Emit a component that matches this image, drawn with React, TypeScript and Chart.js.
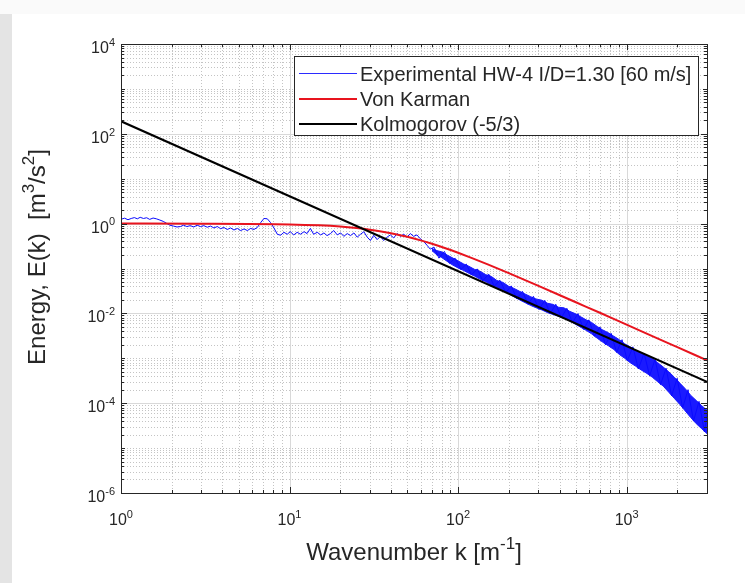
import React, { useEffect, useRef } from "react";
import { Chart, registerables } from "chart.js";

Chart.register(...registerables);

// ---------- data ----------
const expK = [
  1.0, 1.05, 1.1, 1.15, 1.2, 1.25, 1.3, 1.36, 1.42, 1.48, 1.55, 1.62, 1.7, 1.78, 1.86, 1.95,
  2.05, 2.15, 2.25, 2.35, 2.46, 2.58, 2.7, 2.83, 2.96, 3.1, 3.25, 3.4, 3.56, 3.73, 3.9, 4.08,
  4.27, 4.47, 4.68, 4.9, 5.13, 5.37, 5.62, 5.88, 6.15, 6.44, 6.74, 7.05, 7.38, 7.72, 8.08, 8.46,
  8.85, 9.26, 9.69, 10.1, 10.6, 11.1, 11.6, 12.2, 12.7, 13.3, 13.9, 14.6, 15.3, 16.0, 16.7, 17.5,
  18.3, 19.2, 20.1, 21.0, 22.0, 23.0, 24.1, 25.2, 26.4, 27.6, 28.9, 30.2, 31.6, 33.1, 34.6, 36.2,
  37.9, 39.7, 41.5, 43.5, 45.5, 47.6, 49.8, 52.1, 54.5, 57.0, 59.7, 62.5, 65.4, 68.4,
  72, 77, 83, 89, 96, 104, 112, 120, 130, 140, 152, 164, 177, 192, 207, 223, 241, 260, 280, 302,
  327, 352, 380, 410, 442, 477, 515, 555, 597, 645, 695, 750, 810, 872, 940, 1010, 1090, 1175,
  1270, 1370, 1475, 1590, 1715, 1850, 1995, 2150, 2315, 2495, 2690, 2895, 3000,
];
const expE = [
  1.25, 1.32, 1.22, 1.3, 1.36, 1.28, 1.38, 1.3, 1.35, 1.24, 1.33, 1.28, 1.2, 1.12, 1.02, 0.92,
  0.88, 0.84, 0.86, 0.92, 0.86, 0.9, 0.84, 0.92, 0.86, 0.9, 0.83, 0.88, 0.8, 0.86, 0.77, 0.82,
  0.74, 0.8, 0.72, 0.78, 0.7, 0.76, 0.7, 0.78, 0.74, 0.82, 1.05, 1.3, 1.28, 1.05, 0.8, 0.58,
  0.55, 0.64, 0.58, 0.66, 0.56, 0.64, 0.58, 0.66, 0.6, 0.78, 0.58, 0.64, 0.56, 0.62, 0.54, 0.6,
  0.7, 0.56, 0.62, 0.52, 0.6, 0.54, 0.62, 0.5, 0.58, 0.66, 0.5, 0.42, 0.55, 0.44, 0.52, 0.42,
  0.5, 0.56, 0.48, 0.6, 0.52, 0.58, 0.5, 0.6, 0.52, 0.56, 0.46, 0.4, 0.33, 0.27,
  0.3, 0.17, 0.24, 0.13, 0.17, 0.095, 0.125, 0.072, 0.098, 0.053, 0.075, 0.04, 0.055, 0.029,
  0.041, 0.021, 0.031, 0.016, 0.024, 0.0122, 0.0195, 0.0098, 0.016, 0.008, 0.013, 0.0062,
  0.0099, 0.0044, 0.0072, 0.0031, 0.005, 0.002, 0.0036, 0.00135, 0.0026, 0.00088, 0.0018,
  0.00058, 0.0013, 0.00041, 0.00095, 0.00026, 0.0006, 0.000145, 0.00036, 0.000078, 0.0002,
  0.00004, 0.00011, 0.000023, 0.000055,
];

const bandK = [
  70, 75, 80, 86, 92, 100, 108, 116, 125, 135, 146, 158, 170, 185, 200, 215, 232, 250, 270, 290,
  315, 340, 365, 395, 425, 460, 495, 535, 575, 620, 670, 720, 780, 840, 905, 975, 1050, 1130,
  1220, 1320, 1420, 1530, 1650, 1780, 1920, 2070, 2230, 2400, 2590, 2790, 3000,
];
const bandUpper = [
  0.28, 0.25, 0.235, 0.2, 0.175, 0.148, 0.126, 0.112, 0.096, 0.087, 0.073, 0.066, 0.054, 0.049,
  0.04, 0.036, 0.031, 0.027, 0.0235, 0.021, 0.0196, 0.0168, 0.0159, 0.0137, 0.0133, 0.0111,
  0.0099, 0.0084, 0.0072, 0.0063, 0.0051, 0.0043, 0.0037, 0.0031, 0.0026, 0.0021, 0.0018,
  0.00152, 0.0013, 0.00112, 0.00099, 0.0008, 0.00064, 0.0005, 0.00038, 0.00028, 0.00021,
  0.00015, 0.000115, 0.000088, 0.00007,
];
const bandLower = [
  0.25, 0.2, 0.175, 0.145, 0.122, 0.103, 0.09, 0.078, 0.068, 0.058, 0.051, 0.043, 0.038, 0.032,
  0.0275, 0.0233, 0.02, 0.0173, 0.015, 0.0134, 0.0119, 0.0104, 0.0095, 0.0086, 0.0079, 0.0068,
  0.0058, 0.0049, 0.0042, 0.0035, 0.0028, 0.0023, 0.0019, 0.00157, 0.00122, 0.001, 0.0008,
  0.00067, 0.00055, 0.00046, 0.00038, 0.0003, 0.00024, 0.000175, 0.000128, 0.000094, 0.000067,
  0.000048, 0.000035, 0.000027, 0.000021,
];

const vonKarmanK = [1, 3, 10, 15, 20, 25, 30, 35, 40, 50, 60, 70, 85, 100, 120, 150, 200, 300, 500, 700, 1000, 1500, 2000, 3000];
const vonKarmanE = [1.0, 0.995, 0.96, 0.915, 0.86, 0.796, 0.733, 0.67, 0.612, 0.507, 0.423, 0.355, 0.279, 0.224, 0.173, 0.124, 0.079, 0.041, 0.0177, 0.0102, 0.0056, 0.00286, 0.00177, 0.0009];

const kolmogorovK = [1, 3000];
const kolmogorovE = [190, 0.0003];

const xTickValues = [1, 10, 100, 1000];
const xTickExponents = ["0", "1", "2", "3"];
const yTickValues = [1e-6, 1e-4, 1e-2, 1, 1e2, 1e4];
const yTickExponents = ["-6", "-4", "-2", "0", "2", "4"];

const legendLabels = ["Experimental HW-4 I/D=1.30 [60 m/s]", "Von Karman", "Kolmogorov (-5/3)"];
const legendColors = ["#2b2bff", "#e8141e", "#000000"];
const legendWidths = [1, 2, 2];

const X_MIN = 1;
const X_MAX = 3000;
const Y_MIN_EXP = -6;
const Y_MAX_EXP = 4;

type Part = [string, boolean];
const xTitle: Part[] = [["Wavenumber k [m", false], ["-1", true], ["]", false]];
const yTitle: Part[] = [["Energy, E(k)  [m", false], ["3", true], ["/s", false], ["2", true], ["]", false]];

// ---------- drawing helpers ----------
const FONT = '"Liberation Sans", Arial, Helvetica, sans-serif';
const TEXT = "#262626";

function supSize(size: number) {
  return Math.round(size * 0.7);
}
function richWidth(ctx: CanvasRenderingContext2D, parts: Part[], size: number) {
  let w = 0;
  for (const [t, sup] of parts) {
    ctx.font = `${sup ? supSize(size) : size}px ${FONT}`;
    w += ctx.measureText(t).width;
  }
  return w;
}
function drawRich(
  ctx: CanvasRenderingContext2D,
  parts: Part[],
  x: number,
  baseline: number,
  size: number,
  align: "left" | "center" | "right"
) {
  const w = richWidth(ctx, parts, size);
  let cx = align === "left" ? x : align === "center" ? x - w / 2 : x - w;
  ctx.textAlign = "left";
  ctx.textBaseline = "alphabetic";
  for (const [t, sup] of parts) {
    ctx.font = `${sup ? supSize(size) : size}px ${FONT}`;
    ctx.fillText(t, cx, sup ? baseline - size * 0.45 : baseline);
    cx += ctx.measureText(t).width;
  }
}

function gridValuesX() {
  const out: { v: number; major: boolean }[] = [];
  for (let e = 0; e <= 3; e++) {
    for (let m = 1; m <= 9; m++) {
      const v = m * Math.pow(10, e);
      if (v < X_MIN || v > X_MAX) continue;
      out.push({ v, major: m === 1 });
    }
  }
  return out;
}
function gridValuesY() {
  const out: { v: number; major: boolean; decade: boolean }[] = [];
  for (let e = Y_MIN_EXP; e <= Y_MAX_EXP; e++) {
    for (let m = 1; m <= 9; m++) {
      if (e === Y_MAX_EXP && m > 1) break;
      const v = m * Math.pow(10, e);
      out.push({ v, major: m === 1 && e % 2 === 0, decade: m === 1 });
    }
  }
  return out;
}

const decorPlugin = {
  id: "decor",
  beforeDraw(chart: any) {
    const ctx: CanvasRenderingContext2D = chart.ctx;
    const { left, right, top, bottom } = chart.chartArea;
    const xs = chart.scales.x;
    const ys = chart.scales.y;
    ctx.save();
    ctx.fillStyle = "#fafafa";
    ctx.fillRect(0, 0, chart.width, chart.height);
    ctx.fillStyle = "#ffffff";
    ctx.fillRect(12, 14, chart.width - 12, chart.height - 14);
    ctx.fillStyle = "#e4e4e4";
    ctx.fillRect(0, 14, 12, chart.height - 14);

    ctx.lineWidth = 1;
    for (const g of gridValuesX()) {
      const px = Math.round(xs.getPixelForValue(g.v)) + 0.5;
      if (g.major) {
        ctx.setLineDash([]);
        ctx.strokeStyle = "#d9d9d9";
      } else {
        ctx.setLineDash([1, 2]);
        ctx.strokeStyle = "#c4c4c4";
      }
      ctx.beginPath();
      ctx.moveTo(px, top);
      ctx.lineTo(px, bottom);
      ctx.stroke();
    }
    for (const g of gridValuesY()) {
      const py = Math.round(ys.getPixelForValue(g.v)) + 0.5;
      if (g.major) {
        ctx.setLineDash([]);
        ctx.strokeStyle = "#d9d9d9";
      } else {
        ctx.setLineDash([1, 2]);
        ctx.strokeStyle = "#c4c4c4";
      }
      ctx.beginPath();
      ctx.moveTo(left, py);
      ctx.lineTo(right, py);
      ctx.stroke();
    }
    ctx.restore();
  },
  afterDatasetsDraw(chart: any) {
    const ctx: CanvasRenderingContext2D = chart.ctx;
    const { left, right, top, bottom } = chart.chartArea;
    const xs = chart.scales.x;
    const ys = chart.scales.y;
    ctx.save();
    ctx.setLineDash([]);
    ctx.strokeStyle = "#262626";
    ctx.lineWidth = 1;
    // box
    ctx.strokeRect(Math.round(left) + 0.5, Math.round(top) + 0.5, Math.round(right - left), Math.round(bottom - top));
    // ticks
    ctx.beginPath();
    for (const g of gridValuesX()) {
      const px = Math.round(xs.getPixelForValue(g.v)) + 0.5;
      const len = g.major ? 6 : 3;
      ctx.moveTo(px, bottom);
      ctx.lineTo(px, bottom - len);
      ctx.moveTo(px, top);
      ctx.lineTo(px, top + len);
    }
    for (const g of gridValuesY()) {
      const py = Math.round(ys.getPixelForValue(g.v)) + 0.5;
      const len = g.major ? 6 : g.decade ? 4 : 3;
      ctx.moveTo(left, py);
      ctx.lineTo(left + len, py);
      ctx.moveTo(right, py);
      ctx.lineTo(right - len, py);
    }
    ctx.stroke();

    // tick labels
    ctx.fillStyle = TEXT;
    xTickValues.forEach((v, i) => {
      const px = xs.getPixelForValue(v);
      drawRich(ctx, [["10", false], [xTickExponents[i], true]], px, bottom + 32, 16, "center");
    });
    yTickValues.forEach((v, i) => {
      const py = ys.getPixelForValue(v);
      drawRich(ctx, [["10", false], [yTickExponents[i], true]], left - 6, py + 9, 16, "right");
    });

    // axis titles
    drawRich(ctx, xTitle, (left + right) / 2, bottom + 67, 24, "center");
    ctx.save();
    ctx.translate(45, 257);
    ctx.rotate(-Math.PI / 2);
    drawRich(ctx, yTitle, 0, 0, 24, "center");
    ctx.restore();

    // legend
    const bx = 294, by = 56, bw = 404, bh = 79;
    ctx.fillStyle = "#ffffff";
    ctx.fillRect(bx, by, bw, bh);
    ctx.strokeStyle = "#262626";
    ctx.lineWidth = 1;
    ctx.strokeRect(bx + 0.5, by + 0.5, bw, bh);
    const rows = [73.5, 99, 124];
    legendLabels.forEach((label, i) => {
      ctx.strokeStyle = legendColors[i];
      ctx.lineWidth = legendWidths[i];
      ctx.beginPath();
      ctx.moveTo(299, rows[i]);
      ctx.lineTo(357, rows[i]);
      ctx.stroke();
      ctx.fillStyle = TEXT;
      drawRich(ctx, [[label, false]], 360, rows[i] + 7, 20, "left");
    });
    ctx.restore();
  },
};

export default function App() {
  const canvasRef = useRef<HTMLCanvasElement | null>(null);

  useEffect(() => {
    const canvas = canvasRef.current;
    if (!canvas) return;
    const toPts = (xs: number[], ys: number[]) => xs.map((x, i) => ({ x, y: ys[i] }));
    const chart = new Chart(canvas, {
      type: "line",
      data: {
        datasets: [
          {
            label: legendLabels[2],
            data: toPts(kolmogorovK, kolmogorovE),
            borderColor: "#000000",
            borderWidth: 2,
            pointRadius: 0,
            fill: false,
            order: 0,
          },
          {
            label: legendLabels[1],
            data: toPts(vonKarmanK, vonKarmanE),
            borderColor: "#e8141e",
            borderWidth: 2,
            pointRadius: 0,
            fill: false,
            cubicInterpolationMode: "monotone",
            order: 1,
          },
          {
            label: legendLabels[0],
            data: toPts(expK, expE),
            borderColor: "#0a0aff",
            borderWidth: 1,
            pointRadius: 0,
            fill: false,
            order: 2,
          },
          {
            label: "band-upper",
            data: toPts(bandK, bandUpper),
            borderColor: "#1a1aff",
            borderWidth: 1,
            pointRadius: 0,
            backgroundColor: "#1a1aff",
            fill: "+1",
            order: 3,
          },
          {
            label: "band-lower",
            data: toPts(bandK, bandLower),
            borderColor: "#1a1aff",
            borderWidth: 1,
            pointRadius: 0,
            fill: false,
            order: 4,
          },
        ] as any,
      },
      options: {
        animation: false,
        responsive: false,
        maintainAspectRatio: false,
        layout: { padding: { left: 121, top: 44, right: 38, bottom: 90 } },
        plugins: { legend: { display: false }, tooltip: { enabled: false } },
        scales: {
          x: { type: "logarithmic", min: X_MIN, max: X_MAX, display: false },
          y: { type: "logarithmic", min: Math.pow(10, Y_MIN_EXP), max: Math.pow(10, Y_MAX_EXP), display: false },
        },
      },
      plugins: [decorPlugin],
    });
    return () => chart.destroy();
  }, []);

  return (
    <div style={{ position: "absolute", left: 0, top: 0, width: 745, height: 583 }}>
      <canvas ref={canvasRef} width={745} height={583} style={{ display: "block", width: 745, height: 583 }} />
    </div>
  );
}
